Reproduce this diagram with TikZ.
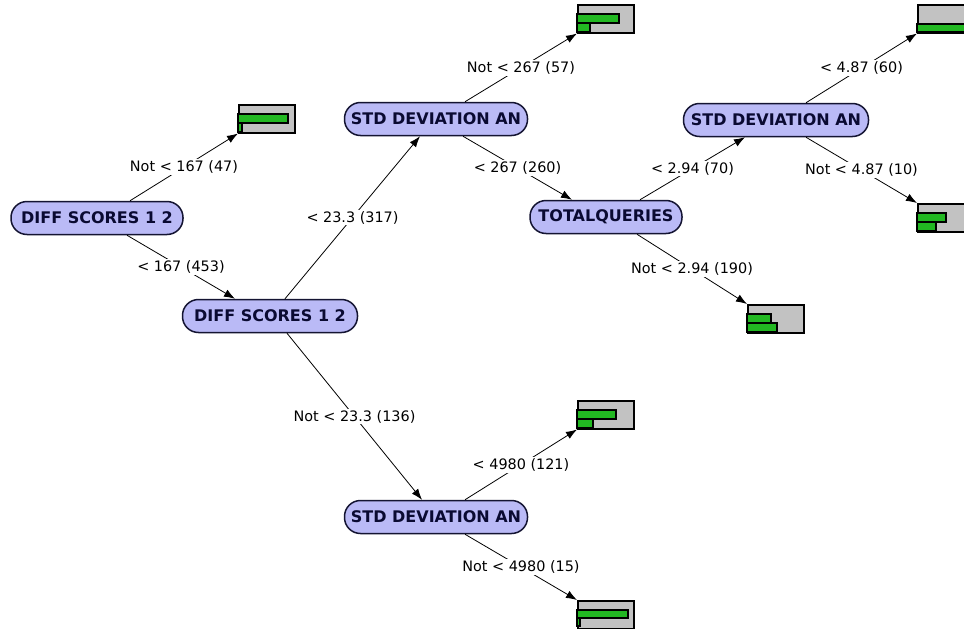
\documentclass[tikz,border=0pt]{standalone}
\usepackage{fontspec}
\setmainfont{DejaVu Sans}
\usetikzlibrary{arrows.meta,calc}
\definecolor{nodefill}{RGB}{186,186,246}
\definecolor{nodeline}{RGB}{20,20,50}
\definecolor{nodetext}{RGB}{10,10,50}
\definecolor{leafgray}{RGB}{194,194,194}
\definecolor{bargreen}{RGB}{34,184,34}
\begin{document}
\begin{tikzpicture}[x=1pt,y=-1pt,
  tnode/.style={draw=nodeline, line width=1.5pt, fill=nodefill, rounded corners=16pt,
    minimum height=33pt, inner sep=0pt, text=nodetext,
    font=\fontsize{16}{18}\selectfont\bfseries},
  leafbox/.style={draw=black, line width=1.5pt, fill=leafgray, minimum width=56pt,
    minimum height=28pt, inner sep=0pt, anchor=north west},
  bar/.style={fill=bargreen, draw=black, line width=1.1pt},
  edge/.style={-{Latex[length=11pt,width=8pt]}, line width=0.8pt},
  lbl/.style={fill=white, inner sep=1.5pt, font=\fontsize{14.4}{16}\selectfont}]
\clip (0,0) rectangle (964,629);
\fill[white] (0,0) rectangle (964,629);

% tree nodes
\node[tnode, minimum width=172pt] (n1) at (97,218) {DIFF SCORES 1 2};
\node[tnode, minimum width=175pt] (n2) at (270,316) {DIFF SCORES 1 2};
\node[tnode, minimum width=183pt] (n3) at (436,119) {STD DEVIATION AN};
\node[tnode, minimum width=152pt] (n4) at (606,217) {TOTALQUERIES};
\node[tnode, minimum width=185pt] (n5) at (776,120) {STD DEVIATION AN};
\node[tnode, minimum width=183pt] (n6) at (436,517) {STD DEVIATION AN};

% leaves
\node[leafbox] (l1) at (238,104) {};
\node[leafbox] (l2) at (577,4) {};
\node[leafbox] (l3) at (917,4) {};
\node[leafbox] (l4) at (917,203) {};
\node[leafbox] (l5) at (747,304) {};
\node[leafbox] (l6) at (577,400) {};
\node[leafbox] (l7) at (577,600) {};

% bars
\draw[bar] ($(l1.north west)+(0,10)$) rectangle ++(50,9);
\draw[bar] ($(l1.north west)+(0,19)$) rectangle ++(4,9);
\draw[bar] ($(l2.north west)+(0,10)$) rectangle ++(42,9);
\draw[bar] ($(l2.north west)+(0,19)$) rectangle ++(13,9);
\draw[bar] ($(l3.north west)+(0,20)$) rectangle ++(56,8);
\draw[bar] ($(l4.north west)+(0,10)$) rectangle ++(29,9);
\draw[bar] ($(l4.north west)+(0,19)$) rectangle ++(19,9);
\draw[bar] ($(l5.north west)+(0,10)$) rectangle ++(24,9);
\draw[bar] ($(l5.north west)+(0,19)$) rectangle ++(30,9);
\draw[bar] ($(l6.north west)+(0,10)$) rectangle ++(39,9);
\draw[bar] ($(l6.north west)+(0,19)$) rectangle ++(16,9);
\draw[bar] ($(l7.north west)+(0,10)$) rectangle ++(51,8);
\draw[bar] ($(l7.north west)+(0,18)$) rectangle ++(3,8);

% edges
\draw[edge] ([xshift=33pt]n1.north) -- node[lbl]{Not < 167 (47)} (l1.south west);
\draw[edge] ([xshift=30pt]n1.south) -- node[lbl]{< 167 (453)} ([xshift=-35pt]n2.north);
\draw[edge] ([xshift=15pt]n2.north) -- node[lbl]{< 23.3 (317)} ([xshift=-16pt]n3.south);
\draw[edge] ([xshift=17pt]n2.south) -- node[lbl]{Not < 23.3 (136)} ([xshift=-14pt]n6.north);
\draw[edge] ([xshift=29pt]n3.north) -- node[lbl]{Not < 267 (57)} (l2.south west);
\draw[edge] ([xshift=27pt]n3.south) -- node[lbl]{< 267 (260)} ([xshift=-34pt]n4.north);
\draw[edge] ([xshift=34pt]n4.north) -- node[lbl]{< 2.94 (70)} ([xshift=-31pt]n5.south);
\draw[edge] ([xshift=31pt]n4.south) -- node[lbl]{Not < 2.94 (190)} (l5.north west);
\draw[edge] ([xshift=30pt]n5.north) -- node[lbl]{< 4.87 (60)} (l3.south west);
\draw[edge] ([xshift=30pt]n5.south) -- node[lbl]{Not < 4.87 (10)} (l4.north west);
\draw[edge] ([xshift=29pt]n6.north) -- node[lbl]{< 4980 (121)} (l6.south west);
\draw[edge] ([xshift=29pt]n6.south) -- node[lbl]{Not < 4980 (15)} (l7.north west);
\end{tikzpicture}
\end{document}
